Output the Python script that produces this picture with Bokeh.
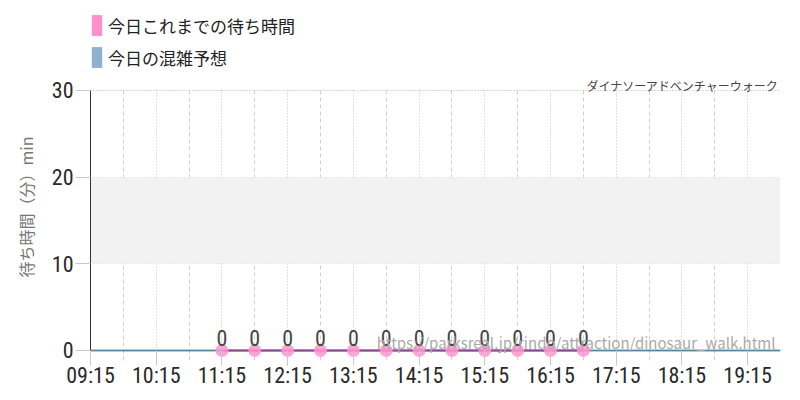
from bokeh.plotting import figure
from bokeh.models import (ColumnDataSource, FixedTicker, DatetimeTickFormatter,
                          BoxAnnotation, Label, Legend, LegendItem, Span, Title)
from bokeh.core.properties import value
from bokeh.embed import file_html
from bokeh.resources import INLINE
import pandas as pd

DAY = "2024-01-01 "

# today's wait so far (pink), every half hour
wait_times = ["11:15", "11:45", "12:15", "12:45", "13:15", "13:45",
              "14:15", "14:45", "15:15", "15:45", "16:15", "16:45"]
wait_values = [0, 0, 0, 0, 0, 0, 0, 0, 0, 0, 0, 0]

# today's crowd forecast (blue)
forecast_times = ["09:15", "10:15", "11:15", "12:15", "13:15", "14:15",
                  "15:15", "16:15", "17:15", "18:15", "19:15", "19:45"]
forecast_values = [0, 0, 0, 0, 0, 0, 0, 0, 0, 0, 0, 0]

tick_labels = ["09:15", "10:15", "11:15", "12:15", "13:15", "14:15",
               "15:15", "16:15", "17:15", "18:15", "19:15"]
minor_labels = ["09:45", "10:45", "11:45", "12:45", "13:45", "14:45",
                "15:45", "16:45", "17:45", "18:45", "19:45"]
y_ticks = [0, 10, 20, 30]

title_text = "ダイナソーアドベンチャーウォーク"
url_text = "https://parksreal.jp/rindo/attraction/dinosaur_walk.html"
legend_labels = ["今日これまでの待ち時間", "今日の混雑予想"]
y_label = "待ち時間（分）min"

PINK = "#ff8fcb"
BLUE = "#8fb1d0"
NUM_FONT = "Roboto Condensed"
JP_FONT = "Noto Sans CJK JP"


def ts(s):
    return pd.Timestamp(DAY + s)


def ms(s):
    return ts(s).value / 1e6


wait_src = ColumnDataSource(data=dict(
    x=[ts(t) for t in wait_times], y=wait_values,
    lab=[str(v) for v in wait_values]))
fc_src = ColumnDataSource(data=dict(
    x=[ts(t) for t in forecast_times], y=forecast_values))

# frame: 0 -> 350px, 30 -> 90px; extra room below for the dots, above for legend
p = figure(width=784, height=392, x_axis_type="datetime",
           x_range=(ms("09:15"), ms("19:45")), y_range=(-1.154, 39.0),
           output_backend="svg", toolbar_location=None, tools="",
           min_border_left=90, min_border_right=4,
           min_border_top=12, min_border_bottom=32)
p.outline_line_color = None
p.background_fill_color = "white"

p.add_layout(BoxAnnotation(bottom=10, top=20, fill_color="#f2f2f2",
                           fill_alpha=1, line_color=None, level="underlay"))

# axes
p.xaxis.ticker = FixedTicker(ticks=[ms(t) for t in tick_labels],
                             minor_ticks=[ms(t) for t in minor_labels])
p.xaxis.formatter = DatetimeTickFormatter(hours="%H:%M", minutes="%H:%M",
                                          hourmin="%H:%M")
p.yaxis.ticker = FixedTicker(ticks=y_ticks)
for ax in (p.xaxis[0], p.yaxis[0]):
    ax.major_tick_in = 0
    ax.minor_tick_out = 0
    ax.minor_tick_in = 0
    ax.major_tick_line_color = "#c8c8c8"
    ax.major_label_text_font = NUM_FONT
    ax.major_label_text_font_size = "22px"
    ax.major_label_text_color = "#2a2a2a"
p.xaxis.major_tick_out = 5
p.xaxis.major_tick_in = 10
p.xaxis.major_label_standoff = -3
p.xaxis.axis_line_color = None
p.yaxis.major_tick_out = 15
p.yaxis.major_label_standoff = 2
p.yaxis.axis_line_color = "#333333"
p.yaxis.bounds = (0, 30)

p.add_layout(Title(text=y_label, align="left", offset=83, standoff=21,
                   text_font=JP_FONT, text_font_size="16px",
                   text_font_style="normal", text_color="#777777"), "left")

p.xgrid.grid_line_color = "#c0c0c0"
p.xgrid.grid_line_dash = "1 2"
p.xgrid.minor_grid_line_color = "#d0d0d0"
p.xgrid.minor_grid_line_dash = "4 3"
p.ygrid.grid_line_color = "#b0b0b0"
p.ygrid.grid_line_dash = "1 2"

# plain white above the 30 line (legend area)
p.add_layout(BoxAnnotation(bottom=30.12, fill_color="white", fill_alpha=1,
                           line_color=None, level="underlay"))

# series
p.add_layout(Span(location=0, dimension="width", line_color="#1d2b3a",
                  line_width=1.5, level="underlay"))
p.line("x", "y", source=fc_src, line_color="#7fc4e6", line_width=1,
       line_alpha=0.6)
p.line("x", "y", source=wait_src, line_color="#8c4a92", line_width=2)
p.scatter("x", "y", source=wait_src, size=13, fill_color="#ff94cf",
          line_color=None, fill_alpha=0.85)

url = Label(x=ms("19:45"), y=0, x_offset=-5, y_offset=8, text=url_text,
            text_align="right", text_baseline="alphabetic",
            text_font=JP_FONT, text_font_size="15px", text_color="#aaaaaa")
p.add_layout(url)

p.text("x", "y", text="lab", source=wait_src, y_offset=-12,
       text_align="center", text_baseline="alphabetic",
       text_font=value(NUM_FONT), text_font_size="22px", text_color="#444444")

title = Label(x=ms("19:45"), y=30, x_offset=-2, y_offset=5, text=title_text,
              text_align="right", text_baseline="alphabetic",
              text_font=JP_FONT, text_font_size="12px", text_color="#444444")
p.add_layout(title)

# legend swatches (no drawn data)
nan = float("nan")
sw_pink = p.quad(left=[nan], right=[nan], top=[nan], bottom=[nan],
                 fill_color=PINK, line_color=None)
sw_blue = p.quad(left=[nan], right=[nan], top=[nan], bottom=[nan],
                 fill_color=BLUE, line_color=None)
legend = Legend(items=[LegendItem(label=legend_labels[0], renderers=[sw_pink]),
                       LegendItem(label=legend_labels[1], renderers=[sw_blue])],
                location="top_left", orientation="vertical",
                glyph_width=13, glyph_height=26, label_height=26,
                label_standoff=5, spacing=6, padding=5, margin=0,
                border_line_color=None, background_fill_alpha=0,
                label_text_font=JP_FONT, label_text_font_size="17px",
                label_text_color="#222222")
p.add_layout(legend)

open("out.html", "w").write(file_html(p, INLINE))
